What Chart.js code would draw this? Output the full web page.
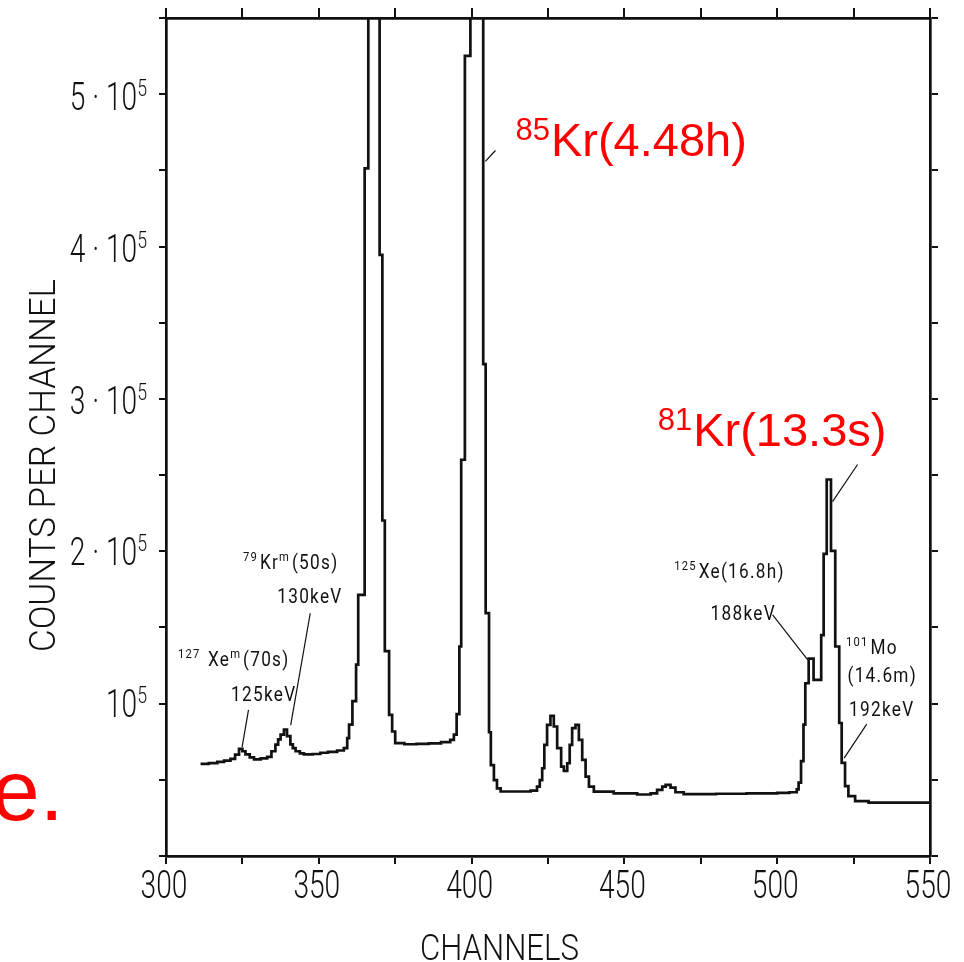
<!DOCTYPE html>
<html lang="en">
  <head>
    <meta charset="UTF-8" />
    <meta name="viewport" content="width=device-width, initial-scale=1.0" />
    <title>Counts per channel</title>
    <style>
      html,
      body {
        margin: 0;
        padding: 0;
        background: #fff;
      }
      .wrap {
        width: 964px;
        height: 962px;
      }
    </style>
  </head>
  <body>
    <div class="wrap"><canvas id="spectrum"></canvas></div>

    <script src="https://cdn.jsdelivr.net/npm/chart.js"></script>
    <script>
      // start channel of each histogram step and the counts held from there on
      const channels = [
        311.3, 314, 316.8, 319, 321.1, 322.6, 323.9, 325, 326, 327.4, 328.8,
        331, 333.1, 334.5, 335.8, 336.7, 337.5, 338.6, 339.6, 340.7, 341.5,
        342.4, 343.8, 345.1, 348, 350.5, 353, 356, 358.2,
        359.3, 359.9, 361, 362.2, 362.9, 365, 366.2, 369.9, 370.8, 371.6, 373,
        374, 375, 378, 382, 386, 390, 393,
        394.2, 395.1, 396, 396.6, 397.8, 399.6, 403.8, 404.6, 405.7, 406.3,
        407.3, 408.3, 409.5,
        419.3, 421.4, 422.3, 423.1, 423.8, 424.7, 425.8, 426.9, 428, 429.3,
        430.2, 431.3, 432.1, 432.9, 434, 435.1, 436.2, 437.3, 438.4, 440,
        446.5, 454.2, 458.6, 460.7, 462.4, 463.5, 465.1, 466.7, 469.4, 480,
        490, 500, 504,
        506.4, 507, 507.8, 508.6, 509.2, 510.3, 511.9, 514.4, 515.2, 516.2,
        517.6, 519, 520.3, 521.1, 522.2, 523.3, 525.5, 529.9, 550,
      ];
      const counts = [
        60700, 61200, 62000, 62800, 64000, 66800, 70500, 69000, 66900, 65000,
        63600, 64300, 65300, 69000, 73300, 76800, 80000, 83300, 79000, 73500,
        71000, 69000, 67600, 66900, 67200, 68000, 68600, 69500, 71000,
        77700, 86500, 102000, 126000, 172000, 453000, 700000, 396000, 221000,
        135000, 93000, 82000, 74400, 73600, 73800, 74200, 75000, 76500,
        80000, 93500, 138000, 261000, 527000, 900000, 324000, 160000, 81500,
        59800, 50000, 44600, 42500,
        43000, 45700, 50000, 57800, 73200, 86400, 92300, 85300, 71000, 58900,
        56000, 61100, 73200, 84200, 86400, 76500, 63300, 52300, 45700, 42400,
        41300, 40500, 41300, 43500, 45700, 46800, 45100, 42000, 40700, 41000,
        41300, 41600, 42000,
        43900, 48300, 62500, 86500, 113800, 130000, 116000, 145500, 199000,
        248000, 201000, 138000, 87600, 61400, 46000, 39500, 36200, 35100,
        35100,
      ];

      const xTickValues = [300, 350, 400, 450, 500, 550];
      const xTickLabels = ["300", "350", "400", "450", "500", "550"];
      const yTickValues = [100000, 200000, 300000, 400000, 500000];
      const yTickLabels = [
        ["10", "^5"],
        ["2 · 10", "^5"],
        ["3 · 10", "^5"],
        ["4 · 10", "^5"],
        ["5 · 10", "^5"],
      ];

      // peak labels, placed at (channel, counts)
      const notes = [
        { parts: ["^127", " Xe", "^m", "(70s)"], ch: 303.9, at: 125000 },
        { parts: ["125keV"], ch: 321.3, at: 102000 },
        { parts: ["^79", "Kr", "^m", "(50s)"], ch: 325.2, at: 188800 },
        { parts: ["130keV"], ch: 336.4, at: 166500 },
        { parts: ["^125", "Xe(16.8h)"], ch: 466.3, at: 182900 },
        { parts: ["188keV"], ch: 478.2, at: 155300 },
        { parts: ["^101", "Mo"], ch: 522.5, at: 132900 },
        { parts: ["(14.6m)"], ch: 523.0, at: 114500 },
        { parts: ["192keV"], ch: 523.5, at: 92100 },
      ];
      const redNotes = [
        { parts: ["^85", "Kr(4.48h)"], ch: 414.35, at: 461200 },
        { parts: ["^81", "Kr(13.3s)"], ch: 460.9, at: 269800 },
        { parts: ["e."], ch: 243.0, at: 24000 },
      ];
      const leaders = [
        [404.5, 457500, 407.8, 464700],
        [526.3, 257900, 518.1, 233400],
        [347.2, 159900, 340.8, 86200],
        [327.0, 96200, 324.9, 71700],
        [498.5, 158800, 510.0, 129200],
        [529.3, 86900, 521.9, 64500],
      ];

      const points = channels.map((c, i) => ({ x: c, y: counts[i] }));

      const INK = "#111";
      const LETTER = "Roboto, 'DejaVu Sans', sans-serif";

      // draws text pieces left to right; a leading ^ marks a superscript
      function rich(ctx, parts, x, y, o) {
        ctx.save();
        ctx.translate(x, y);
        ctx.scale(o.sx, 1);
        let width = 0;
        const pieces = parts.map((p) => {
          const sup = p.startsWith("^");
          const t = sup ? p.slice(1) : p;
          const size = sup ? o.sup : o.size;
          const font = `${o.weight || 400} ${size}px ${o.family}`;
          ctx.font = font;
          const w = ctx.measureText(t).width;
          const piece = { t, sup, font, w, x: width };
          width += w + (sup ? o.supGap || 0 : 0);
          return piece;
        });
        let shift = 0;
        if (o.align === "right") shift = -width;
        if (o.align === "center") shift = -width / 2;
        ctx.textBaseline = "alphabetic";
        ctx.textAlign = "left";
        ctx.fillStyle = o.color;
        pieces.forEach((p) => {
          ctx.font = p.font;
          ctx.fillText(p.t, p.x + shift, p.sup ? -o.rise : 0);
        });
        ctx.restore();
      }

      // single line squeezed to a given width
      function fitted(ctx, text, cx, y, size, width) {
        ctx.save();
        ctx.font = `300 ${size}px ${LETTER}`;
        const w = ctx.measureText(text).width;
        ctx.translate(cx, y);
        ctx.scale(width / w, 1);
        ctx.fillStyle = INK;
        ctx.textAlign = "center";
        ctx.fillText(text, 0, 0);
        ctx.restore();
      }

      const whiteBg = {
        id: "whiteBg",
        beforeDraw(chart) {
          const { ctx, width, height } = chart;
          ctx.save();
          ctx.fillStyle = "#fff";
          ctx.fillRect(0, 0, width, height);
          ctx.restore();
        },
      };

      const lettering = {
        id: "lettering",
        afterDraw(chart) {
          const { ctx } = chart;
          const xs = chart.scales.x;
          const ys = chart.scales.y;
          const area = chart.chartArea;

          // value labels on the left axis
          yTickValues.forEach((v, i) => {
            rich(ctx, yTickLabels[i], area.left - 19, ys.getPixelForValue(v) + 13, {
              size: 38, sup: 24, rise: 14, supGap: 0, sx: 0.74, weight: 300,
              family: LETTER, color: INK, align: "right",
            });
          });

          // channel labels under the axis
          xTickValues.forEach((v, i) => {
            rich(ctx, [xTickLabels[i]], xs.getPixelForValue(v) - 2, area.bottom + 42, {
              size: 38, sup: 24, rise: 14, sx: 0.74, weight: 300,
              family: LETTER, color: INK, align: "center",
            });
          });

          // axis titles
          fitted(ctx, "CHANNELS", 499.5, 960, 36, 159);
          ctx.save();
          ctx.translate(55, 465.5);
          ctx.rotate(-Math.PI / 2);
          fitted(ctx, "COUNTS PER CHANNEL", 0, 0, 37, 373);
          ctx.restore();

          // leader lines from labels to peaks
          ctx.save();
          ctx.strokeStyle = INK;
          ctx.lineWidth = 1.2;
          leaders.forEach(([c1, v1, c2, v2]) => {
            ctx.beginPath();
            ctx.moveTo(xs.getPixelForValue(c1), ys.getPixelForValue(v1));
            ctx.lineTo(xs.getPixelForValue(c2), ys.getPixelForValue(v2));
            ctx.stroke();
          });
          ctx.restore();

          ctx.save();
          if ("letterSpacing" in ctx) ctx.letterSpacing = "1.5px";
          notes.forEach((n) => {
            rich(ctx, n.parts, xs.getPixelForValue(n.ch), ys.getPixelForValue(n.at), {
              size: 20, sup: 13, rise: 8, supGap: 2, sx: 0.86, weight: 400,
              family: LETTER, color: INK,
            });
          });
          ctx.restore();

          redNotes.forEach((n, i) => {
            const big = i === 2;
            rich(ctx, n.parts, xs.getPixelForValue(n.ch), ys.getPixelForValue(n.at), {
              size: big ? 86 : 47, sup: 31, rise: 16, supGap: 1, sx: 1,
              family: "'Liberation Sans', Arial, sans-serif", color: "#ff0000",
            });
          });
        },
      };

      const frame = {
        display: true,
        color: INK,
        width: 2.7,
      };
      const tickMarks = (len) => ({
        drawOnChartArea: false,
        drawTicks: true,
        tickLength: len,
        color: INK,
        lineWidth: 2,
      });

      new Chart(document.getElementById("spectrum"), {
        type: "scatter",
        data: {
          datasets: [
            {
              data: points,
              showLine: true,
              stepped: true,
              borderColor: INK,
              borderWidth: 2.7,
              pointRadius: 0,
              fill: false,
            },
          ],
        },
        options: {
          responsive: true,
          maintainAspectRatio: false,
          animation: false,
          layout: { padding: 0 },
          plugins: {
            legend: { display: false },
            tooltip: { enabled: false },
          },
          scales: {
            x: {
              type: "linear",
              position: "bottom",
              min: 300,
              max: 550,
              ticks: { display: false, stepSize: 25, includeBounds: false },
              grid: tickMarks(8),
              border: frame,
              afterFit: (s) => {
                s.height = 106;
              },
            },
            x2: {
              type: "linear",
              position: "top",
              min: 300,
              max: 550,
              ticks: { display: false, stepSize: 25, includeBounds: false },
              grid: tickMarks(10),
              border: frame,
              afterFit: (s) => {
                s.height = 18;
              },
            },
            y: {
              type: "linear",
              position: "left",
              min: 0,
              max: 552000,
              ticks: { display: false, stepSize: 50000, includeBounds: false },
              grid: tickMarks(7),
              border: frame,
              afterFit: (s) => {
                s.width = 166;
              },
            },
            y2: {
              type: "linear",
              position: "right",
              min: 0,
              max: 552000,
              ticks: { display: false, stepSize: 50000, includeBounds: false },
              grid: tickMarks(8),
              border: frame,
              afterFit: (s) => {
                s.width = 34;
              },
            },
          },
        },
        plugins: [whiteBg, lettering],
      });
    </script>
  </body>
</html>
